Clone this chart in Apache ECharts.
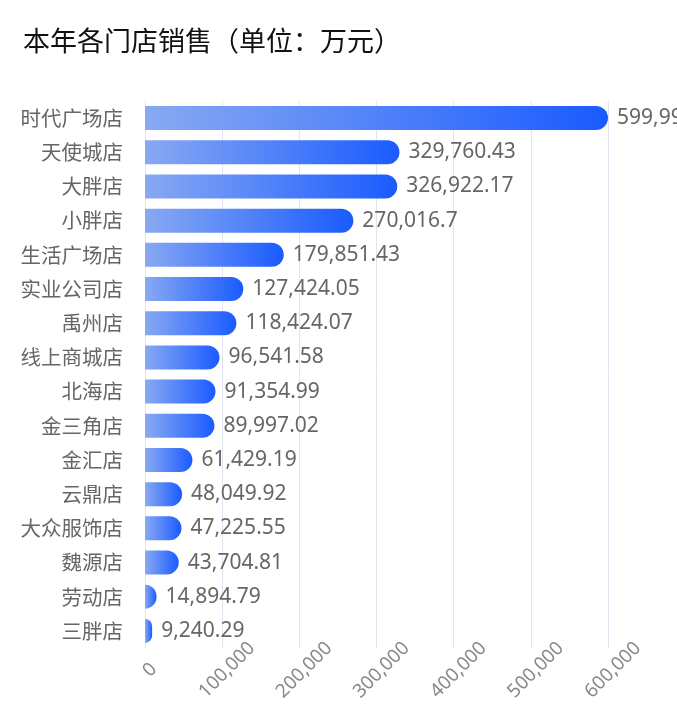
<!DOCTYPE html>
<html>
<head>
	<meta charset="utf-8">
	<title>门店销售</title>
	<script src="https://cdn.jsdelivr.net/npm/echarts@6/dist/echarts.min.js"></script>
	<style>
		html,body{margin:0;padding:0;background:#fff;}
	</style>
</head>
<body>
	<div id="container" style="width:677px;height:720px;"></div>
	<script type="text/javascript">
		// 门店名称（从上到下）
		var stores = ["时代广场店", "天使城店", "大胖店", "小胖店", "生活广场店", "实业公司店", "禹州店", "线上商城店",
			"北海店", "金三角店", "金汇店", "云鼎店", "大众服饰店", "魏源店", "劳动店", "三胖店"];
		// 销售额（万元）
		var sales = [599996.35, 329760.43, 326922.17, 270016.7, 179851.43, 127424.05, 118424.07, 96541.58,
			91354.99, 89997.02, 61429.19, 48049.92, 47225.55, 43704.81, 14894.79, 9240.29];
		var axisMax = 600000;
		var axisStep = 100000;

		var myChart = echarts.init(document.getElementById("container"));
		myChart.setOption({
			animation: false,
			title: {
				text: "本年各门店销售（单位：万元）",
				left: 18,
				top: 22,
				textStyle: {
					fontSize: 27,
					fontWeight: 'normal',
					color: '#111',
					fontFamily: 'Noto Sans CJK SC'
				}
			},
			grid: {
				left: 145,
				right: 69,
				top: 101,
				bottom: 72
			},
			xAxis: {
				type: 'value',
				min: 0,
				max: axisMax,
				interval: axisStep,
				axisLine: { show: false },
				axisTick: { show: false },
				splitLine: { lineStyle: { color: '#e0e6f1' } },
				axisLabel: {
					rotate: 45,
					align: 'center',
					verticalAlign: 'middle',
					padding: [0, 0, 0, 14],
					fontSize: 19,
					color: '#888',
					margin: 27,
					fontFamily: 'Noto Sans'
				}
			},
			yAxis: {
				type: 'category',
				data: stores,
				inverse: true,
				axisLine: { show: false },
				axisTick: { show: false },
				axisLabel: {
					fontSize: 20.5,
					color: '#666',
					margin: 22,
					fontFamily: 'Noto Sans CJK SC'
				}
			},
			series: [{
				type: 'bar',
				data: sales,
				barWidth: 24,
				itemStyle: {
					borderRadius: [0, 12, 12, 0],
					color: new echarts.graphic.LinearGradient(0, 0, 1, 0, [
						{ offset: 0, color: '#88a9f2' },
						{ offset: 1, color: '#1a5bff' }
					])
				},
				label: {
					show: true,
					position: 'right',
					distance: 9,
					fontSize: 21,
					color: '#666',
					fontFamily: 'Noto Sans',
					formatter: function (p) {
						return echarts.format.addCommas(p.value);
					}
				}
			}]
		});
	</script>
</body>
</html>
